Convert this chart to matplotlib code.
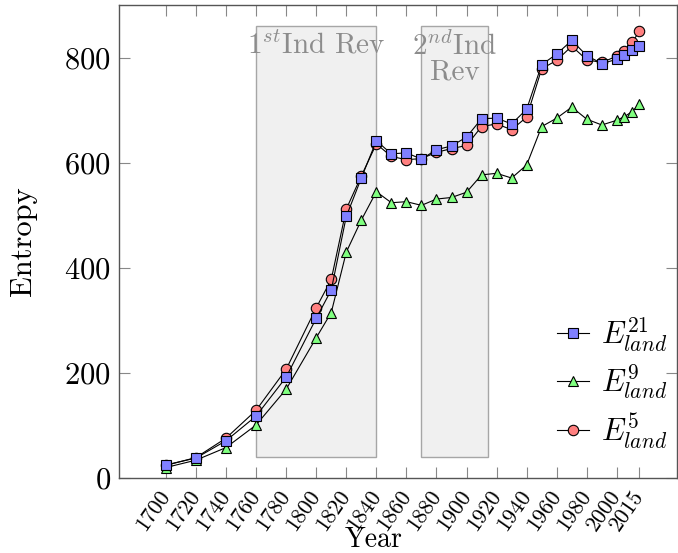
import matplotlib
matplotlib.use("Agg")
import matplotlib.pyplot as plt
from matplotlib.patches import Rectangle

plt.rcParams['font.family'] = 'serif'
plt.rcParams['font.serif'] = ['cmr10', 'DejaVu Serif']
plt.rcParams['mathtext.fontset'] = 'cm'
plt.rcParams['axes.formatter.use_mathtext'] = True

years = [1700, 1720, 1740, 1760, 1780, 1800, 1810, 1820, 1830, 1840,
         1850, 1860, 1870, 1880, 1890, 1900, 1910, 1920, 1930, 1940,
         1950, 1960, 1970, 1980, 1990, 2000, 2005, 2010, 2015]
e21 = [25, 38, 71, 118, 192, 304, 358, 498, 571, 642,
       617, 619, 607, 625, 632, 649, 684, 685, 674, 702,
       787, 807, 833, 804, 789, 797, 806, 814, 823]
e9 = [20, 34, 58, 101, 169, 267, 315, 430, 491, 545,
      524, 526, 519, 531, 534, 544, 577, 580, 571, 596,
      669, 685, 706, 683, 672, 681, 688, 697, 712]
e5 = [24, 39, 76, 129, 207, 324, 378, 512, 575, 636,
      612, 606, 608, 620, 627, 633, 669, 674, 663, 687,
      779, 795, 822, 796, 791, 803, 812, 829, 850]
xticks = [1700, 1720, 1740, 1760, 1780, 1800, 1820, 1840, 1860, 1880,
          1900, 1920, 1940, 1960, 1980, 2000, 2015]
yticks = [0, 200, 400, 600, 800]
rev1 = (1760, 1840)
rev2 = (1870, 1914)
band_y = (40, 860)
labels = [r'$E^{21}_{land}$', r'$E^{9}_{land}$', r'$E^{5}_{land}$']

fig = plt.figure(figsize=(6.78, 5.53), dpi=100)
ax = fig.add_axes([0.176, 0.1356, 0.8225, 0.855])

for (a, b) in (rev1, rev2):
    ax.add_patch(Rectangle((a, band_y[0]), b - a, band_y[1] - band_y[0],
                           facecolor='#f0f0f0', edgecolor='#a6a6a6', lw=1.0, zorder=0))
ax.text((rev1[0] + rev1[1]) / 2, 850, r'$1^{st}$Ind Rev', ha='center', va='top',
        color='#8c8c8c', fontsize=21, zorder=1)
ax.text((rev2[0] + rev2[1]) / 2, 850, '$2^{nd}$Ind\nRev', ha='center', va='top',
        color='#8c8c8c', fontsize=21, zorder=1, linespacing=0.95)

l5, = ax.plot(years, e5, '-o', color='black', lw=0.8, markersize=7.5,
              markerfacecolor='#ff8080', markeredgecolor='black', markeredgewidth=0.8, zorder=3)
l9, = ax.plot(years, e9, '-^', color='black', lw=0.8, markersize=7.5,
              markerfacecolor='#80ff80', markeredgecolor='black', markeredgewidth=0.8, zorder=4)
l21, = ax.plot(years, e21, '-s', color='black', lw=0.8, markersize=7.5,
               markerfacecolor='#8080ff', markeredgecolor='black', markeredgewidth=0.8, zorder=5)

ax.set_xlim(1669, 2040)
ax.set_ylim(0, 900)
ax.set_xticks(xticks)
ax.set_xticklabels([str(x) for x in xticks], rotation=55, ha='right', va='center',
                   rotation_mode='anchor', fontsize=16)
ax.set_yticks(yticks)
ax.tick_params(axis='y', labelsize=22, pad=6)
ax.tick_params(axis='x', pad=10)
ax.tick_params(direction='in', length=8, width=0.8, color='#888888',
               top=True, right=True)
for s in ax.spines.values():
    s.set_color('#555555')
    s.set_linewidth(1.0)

ax.set_xlabel('Year', fontsize=20, va='center')
ax.xaxis.set_label_coords(0.456, -0.131)
ax.set_ylabel('Entropy', fontsize=22, labelpad=20)

ax.legend([l21, l9, l5], labels, loc='upper left', frameon=False, fontsize=22,
          handlelength=1.05, handletextpad=0.4, labelspacing=0.3,
          borderpad=0, borderaxespad=0,
          bbox_to_anchor=(0.785, 0.345))

fig.savefig('out.png', dpi=100)
